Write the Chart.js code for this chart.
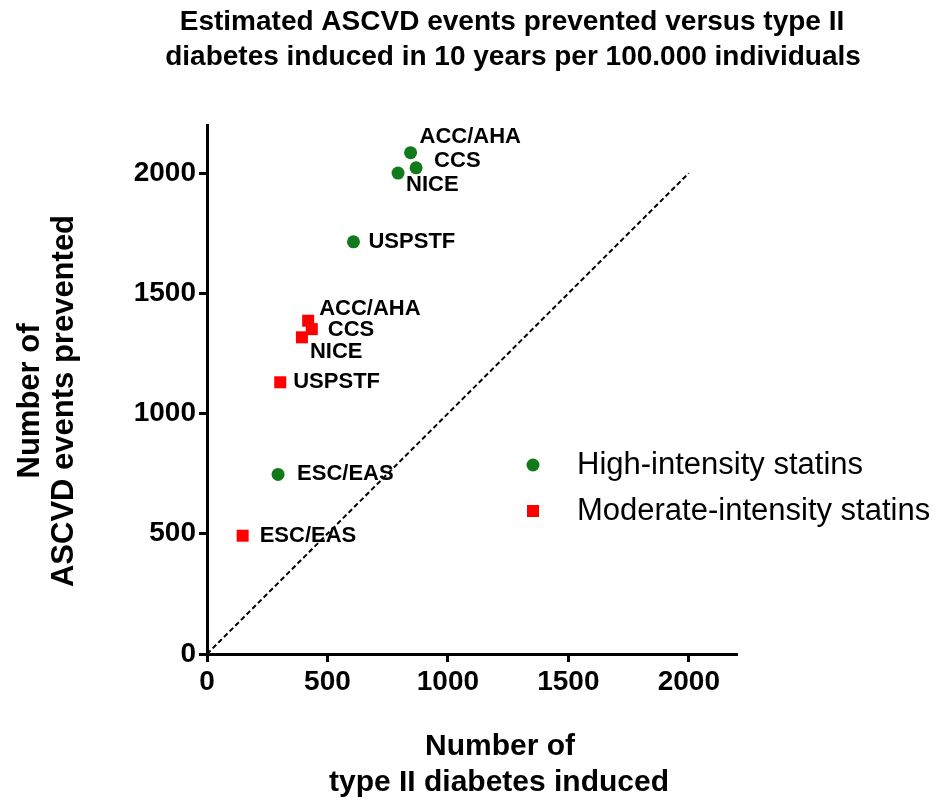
<!DOCTYPE html>
<html>
<head>
<meta charset="utf-8">
<script src="https://cdn.jsdelivr.net/npm/chart.js@4.4.1/dist/chart.umd.min.js"></script>
<style>
    html, body { margin: 0; padding: 0; background: #fff; }
    #wrap { width: 937px; height: 804px; }
</style>
</head>
<body>
<div id="wrap"><canvas id="chart" width="937" height="804"></canvas></div>
<script>
const guidelines = ['ACC/AHA', 'CCS', 'NICE', 'USPSTF', 'ESC/EAS'];
const highDiabetes = [845, 868, 793, 608, 295];
const highAscvd = [2085, 2022, 2000, 1714, 747];
const moderateDiabetes = [420, 435, 394, 304, 148];
const moderateAscvd = [1386, 1351, 1317, 1130, 492];
const identityLine = [0, 2000];
const xTicks = [0, 500, 1000, 1500, 2000];
const yTicks = [0, 500, 1000, 1500, 2000];
const seriesNames = ['High-intensity statins', 'Moderate-intensity statins'];

// label placement next to each point (dx, dy in px)
const highLabelOffsets = [[9, -16], [18, -7], [8, 12], [15, 0], [19, 0]];
const moderateLabelOffsets = [[11, -12], [16, 1], [8, 15], [13, 0], [17, 0]];

const FONT = '"Liberation Sans", Arial, sans-serif';

const toPoints = (xs, ys) => xs.map((x, i) => ({ x: x, y: ys[i] }));

const annotate = {
    id: 'annotate',
    afterDatasetsDraw(chart) {
        const ctx = chart.ctx;
        ctx.save();
        ctx.fillStyle = '#000';
        ctx.textBaseline = 'middle';
        ctx.textAlign = 'left';
        ctx.font = 'bold 22px ' + FONT;
        chart.data.datasets.forEach((ds, i) => {
            if (!ds.pointLabels) {
                return;
            }
            chart.getDatasetMeta(i).data.forEach((pt, j) => {
                const off = ds.labelOffsets[j];
                ctx.fillText(ds.pointLabels[j], pt.x + off[0], pt.y + off[1]);
            });
        });

        // legend
        ctx.font = '31px ' + FONT;
        const legendRows = [465, 511];
        chart.data.datasets.filter((ds) => ds.pointLabels).forEach((ds, i) => {
            ctx.fillStyle = ds.backgroundColor;
            ctx.beginPath();
            if (ds.pointStyle === 'circle') {
                ctx.arc(533, legendRows[i], 6.5, 0, Math.PI * 2);
            } else {
                ctx.rect(527, legendRows[i] - 6, 12, 12);
            }
            ctx.fill();
            ctx.fillStyle = '#000';
            ctx.fillText(ds.label, 577, legendRows[i]);
        });

        // titles
        ctx.textAlign = 'center';
        ctx.font = 'bold 28px ' + FONT;
        ctx.fillText('Estimated ASCVD events prevented versus type II', 512, 22);
        ctx.fillText('diabetes induced in 10 years per 100.000 individuals', 513, 57);

        ctx.font = 'bold 30px ' + FONT;
        ctx.fillText('Number of', 500, 747);
        ctx.fillText('type II diabetes induced', 499, 783);

        ctx.font = 'bold 31px ' + FONT;
        [['Number of', 30], ['ASCVD events prevented', 64]].forEach(([text, x]) => {
            ctx.save();
            ctx.translate(x, 401);
            ctx.rotate(-Math.PI / 2);
            ctx.fillText(text, 0, 0);
            ctx.restore();
        });
        ctx.restore();
    },
};

const axisOptions = (ticks, fitKey, fitValue) => ({
    type: 'linear',
    min: 0,
    max: 2200,
    afterBuildTicks: (scale) => {
        scale.ticks = ticks.map((v) => ({ value: v }));
    },
    afterFit: (scale) => {
        scale[fitKey] = fitValue;
    },
    border: {
        display: true,
        color: '#000',
        width: 3,
    },
    grid: {
        drawOnChartArea: false,
        drawTicks: true,
        tickLength: 8,
        tickWidth: 3,
        tickColor: '#000',
    },
    ticks: {
        color: '#000',
        padding: 3,
        font: { family: FONT, size: 28, weight: 'bold' },
        callback: (v) => String(v),
    },
});

new Chart(document.getElementById('chart'), {
    type: 'scatter',
    data: {
        datasets: [
            {
                label: seriesNames[0],
                data: toPoints(highDiabetes, highAscvd),
                pointLabels: guidelines,
                labelOffsets: highLabelOffsets,
                pointStyle: 'circle',
                pointRadius: 6.5,
                pointHoverRadius: 6.5,
                borderWidth: 0,
                backgroundColor: '#117a1a',
            },
            {
                label: seriesNames[1],
                data: toPoints(moderateDiabetes, moderateAscvd),
                pointLabels: guidelines,
                labelOffsets: moderateLabelOffsets,
                pointStyle: 'rect',
                pointRadius: 8.5,
                pointHoverRadius: 8.5,
                borderWidth: 0,
                backgroundColor: '#ff0000',
            },
            {
                type: 'line',
                label: 'y = x',
                data: toPoints(identityLine, identityLine),
                borderColor: '#000',
                borderWidth: 2,
                borderDash: [5, 3],
                pointRadius: 0,
                fill: false,
            },
        ],
    },
    options: {
        responsive: false,
        animation: false,
        layout: {
            padding: { left: 100, top: 125, right: 200, bottom: 0 },
        },
        plugins: {
            legend: { display: false },
            title: { display: false },
            tooltip: { enabled: false },
        },
        scales: {
            x: axisOptions(xTicks, 'height', 150),
            y: axisOptions(yTicks, 'width', 107),
        },
    },
    plugins: [annotate],
});
</script>
</body>
</html>
